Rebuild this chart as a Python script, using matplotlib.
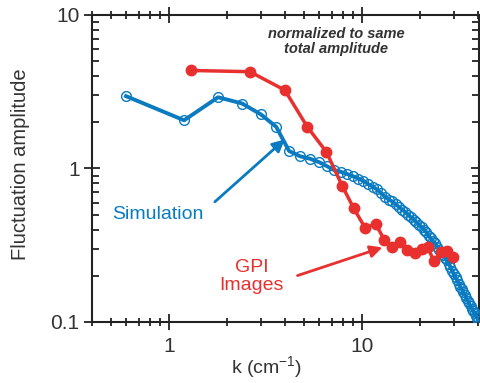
import numpy as np
import matplotlib.pyplot as plt
from matplotlib.ticker import LogLocator, NullFormatter, FixedLocator, FixedFormatter

plt.rcParams['font.family'] = ['Liberation Sans', 'DejaVu Sans']
plt.rcParams['mathtext.fontset'] = 'custom'
plt.rcParams['mathtext.rm'] = 'Liberation Sans'

# simulation: k = 0.6, 1.2, ... 40.2 cm^-1
sim_k = [0.6 * n for n in range(1, 68)]
sim_amp = [2.96, 2.06, 2.91, 2.65, 2.25, 1.87, 1.30, 1.20, 1.157, 1.10, 1.035, 0.975,
           0.95, 0.92, 0.89, 0.86, 0.83, 0.79, 0.76, 0.73, 0.69, 0.655,
           0.625, 0.61, 0.585, 0.56, 0.54, 0.52, 0.50, 0.48, 0.465, 0.445,
           0.43, 0.415, 0.40, 0.385, 0.365, 0.35, 0.335, 0.325, 0.31, 0.295,
           0.285, 0.275, 0.262, 0.252, 0.24, 0.228, 0.215, 0.205, 0.195, 0.187,
           0.178, 0.170, 0.163, 0.156, 0.150, 0.144, 0.138, 0.132, 0.127, 0.122,
           0.118, 0.114, 0.110, 0.106, 0.102]

# GPI images
gpi_k = [1.31, 2.63, 3.99, 5.23, 6.56, 7.92, 9.09, 10.4, 11.8, 13.1,
         14.4, 15.7, 17.2, 18.8, 20.5, 22.0, 23.6, 25.7, 27.7, 29.6]
gpi_amp = [4.35, 4.27, 3.24, 1.86, 1.28, 0.769, 0.549, 0.411, 0.435, 0.342,
           0.310, 0.334, 0.294, 0.282, 0.297, 0.306, 0.249, 0.284, 0.289, 0.266]

blue = '#0a7bc0'
red = '#e8302e'

fig = plt.figure(figsize=(4.81, 3.83), dpi=100)
ax = fig.add_axes([0.1913, 0.1593, 0.8046, 0.8016])

ax.plot(sim_k, sim_amp, '-', color=blue, lw=2.8, marker='o', ms=7,
        mfc='none', mec=blue, mew=1.0, zorder=3)
ax.plot(gpi_k, gpi_amp, '-', color=red, lw=2.5, marker='o', ms=7.5,
        mfc=red, mec=red, zorder=4)

ax.set_xscale('log')
ax.set_yscale('log')
ax.set_xlim(0.4, 40.5)
ax.set_ylim(0.1, 10)

ax.xaxis.set_major_locator(FixedLocator([1, 10]))
ax.xaxis.set_major_formatter(FixedFormatter(['1', '10']))
ax.yaxis.set_major_locator(FixedLocator([0.1, 1, 10]))
ax.yaxis.set_major_formatter(FixedFormatter(['0.1', '1', '10']))
ax.xaxis.set_minor_locator(LogLocator(base=10, subs=np.arange(2, 10)))
ax.yaxis.set_minor_locator(LogLocator(base=10, subs=np.arange(2, 10)))
ax.xaxis.set_minor_formatter(NullFormatter())
ax.yaxis.set_minor_formatter(NullFormatter())

ax.tick_params(which='both', direction='inout', top=True, right=True,
               width=1.3, colors='#222222', labelcolor='#333333', labelsize=15)
ax.tick_params(which='major', length=11)
ax.tick_params(which='minor', length=6)
ax.tick_params(axis='y', which='minor', direction='in', length=5)
ax.tick_params(axis='x', which='major', pad=5)
for s in ax.spines.values():
    s.set_linewidth(1.5)
    s.set_color('#222222')

ax.set_xlabel('k (cm$^{-1}$)', fontsize=14, color='#333333')
ax.xaxis.set_label_coords(0.45, -0.105)
ax.set_ylabel('Fluctuation amplitude', fontsize=14.5, color='#333333')
ax.yaxis.set_label_coords(-0.16, 0.515)

ax.text(0.63, 0.914, 'normalized to same\ntotal amplitude', transform=ax.transAxes,
        ha='center', va='center', fontsize=10.5, fontweight='bold', style='italic',
        color='#333333', linespacing=1.1)

ax.annotate('', xy=(4.09, 1.59), xytext=(1.69, 0.59),
            arrowprops=dict(arrowstyle='-|>', color=blue, lw=2, mutation_scale=18))
ax.text(0.877, 0.50, 'Simulation', color=blue, fontsize=14, ha='center', va='center')

ax.annotate('', xy=(13.2, 0.31), xytext=(4.5, 0.198),
            arrowprops=dict(arrowstyle='-|>', color=red, lw=2, mutation_scale=18))
ax.text(2.69, 0.198, 'GPI\nImages', color=red, fontsize=14, ha='center', va='center',
        linespacing=1.1)

fig.savefig('out.png', dpi=100)
